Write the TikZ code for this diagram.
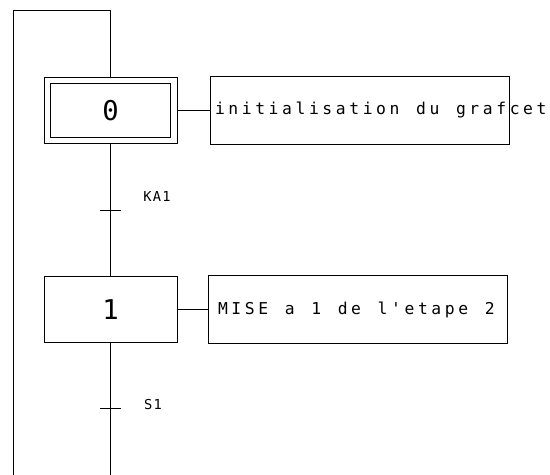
\documentclass[tikz,border=0pt]{standalone}
\usepackage{fontspec}
\setmonofont{DejaVu Sans Mono}
\newfontfamily\plotfont[LetterSpace=22, WordSpace=1.24]{DejaVu Sans Mono}
\newfontfamily\condfont[LetterSpace=10]{DejaVu Sans Mono}
\usetikzlibrary{positioning}

\begin{document}
\begin{tikzpicture}[line width=0.5pt,
    stepbox/.style={draw, minimum width=2.66cm, minimum height=1.33cm, inner sep=0pt, font=\fontsize{15.5}{16}\selectfont\ttfamily},
    actbox/.style={draw, minimum width=5.98cm, minimum height=1.36cm, inner sep=0pt},
    acttext/.style={font=\fontsize{9.3}{10}\selectfont\plotfont, inner sep=0pt},
    condtext/.style={font=\fontsize{7.8}{9}\selectfont\condfont, inner sep=0pt},
    transbar/.style={minimum width=0.4cm, inner sep=0pt}]
    \useasboundingbox (0,0) rectangle (11,9.5);

    % Step 0: initial step, double frame
    \node[stepbox] (s0) at (2.21, 7.29) {};
    \node[stepbox, minimum width=2.4cm, minimum height=1.08cm] (s0in) at (s0) {0};
    \node[actbox] (a0) at (7.19, 7.29) {};
    \node[acttext, right=0.1cm of a0.west] (a0txt) {initialisation du grafcet};
    \draw (s0.east) -- (a0.west);

    % Transition KA1
    \node[transbar] (t0) at (2.21, 5.3) {};
    \node[condtext] (c0) at (3.14, 5.56) {KA1};

    % Step 1
    \node[stepbox] (s1) at (2.21, 3.31) {1};
    \node[actbox] (a1) at (7.15, 3.31) {};
    \node[acttext, right=0.2cm of a1.west] (a1txt) {MISE a 1 de l'etape 2};
    \draw (s1.east) -- (a1.west);

    % Transition S1
    \node[transbar] (t1) at (2.21, 1.34) {};
    \node[condtext] (c1) at (3.06, 1.4) {S1};

    % Links and transition bars
    \draw (s0.south) -- (s1.north);
    \draw (t0.west) -- (t0.east);
    \draw (t1.west) -- (t1.east);
    \coordinate (lbot) at (0.26, 0);
    \coordinate (ltop) at (0.26, 9.3);
    \draw (s1.south) -- (s1.south |- lbot);

    % Loop back to step 0
    \draw (lbot) -- (ltop) -| (s0.north);
\end{tikzpicture}
\end{document}
